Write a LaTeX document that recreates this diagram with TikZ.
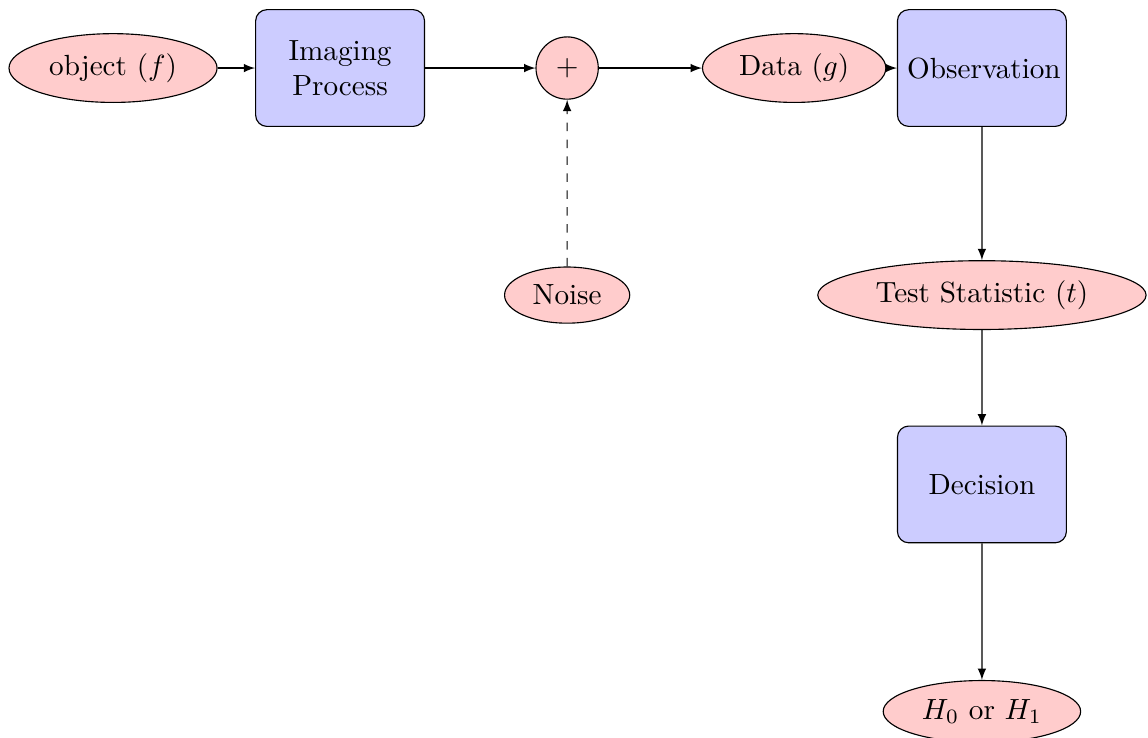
\documentclass[tikz,border=0pt]{standalone}
\usetikzlibrary{positioning,shapes.geometric}

\begin{document}
\begin{tikzpicture}[
 node distance=2.83cm,on grid,every node/.style={scale=1.035},
 box/.style={draw,fill=blue!20,rounded corners,
 text width=1.8cm,minimum height=4em,align=center},
 blob/.style={draw,ellipse,fill=red!20},
 sum/.style={draw,circle,fill=red!20,minimum size=.75cm},
 arr/.style={-latex}]
\useasboundingbox (-1.409,-8.34) rectangle (12.90,.848);
\node[blob] (obj) {object ($f$)};
\node[box,right=of obj] (img) {Imaging Process};
\node[sum,right=of img] (add) {$+$};
\node[blob,right=of add] (data) {Data ($g$)};
\node[box,right=2.34cm of data] (obs) {Observation};
\node[blob,below=of add] (noise) {Noise};
\node[blob,below=of obs] (stat) {Test Statistic ($t$)};
\node[box,below=2.36cm of stat] (dec) {Decision};
\node[blob,below=of dec] (hyp) {$H_0$ or $H_1$};
\draw[arr] (obj)--(img);\draw[arr] (img)--(add);\draw[arr] (add)--(data);
\draw[arr] (data)--(obs);\draw[arr,dashed] (noise)--(add);
\draw[arr] (obs)--(stat);\draw[arr] (stat)--(dec);\draw[arr] (dec)--(hyp);
\end{tikzpicture}
\end{document}
